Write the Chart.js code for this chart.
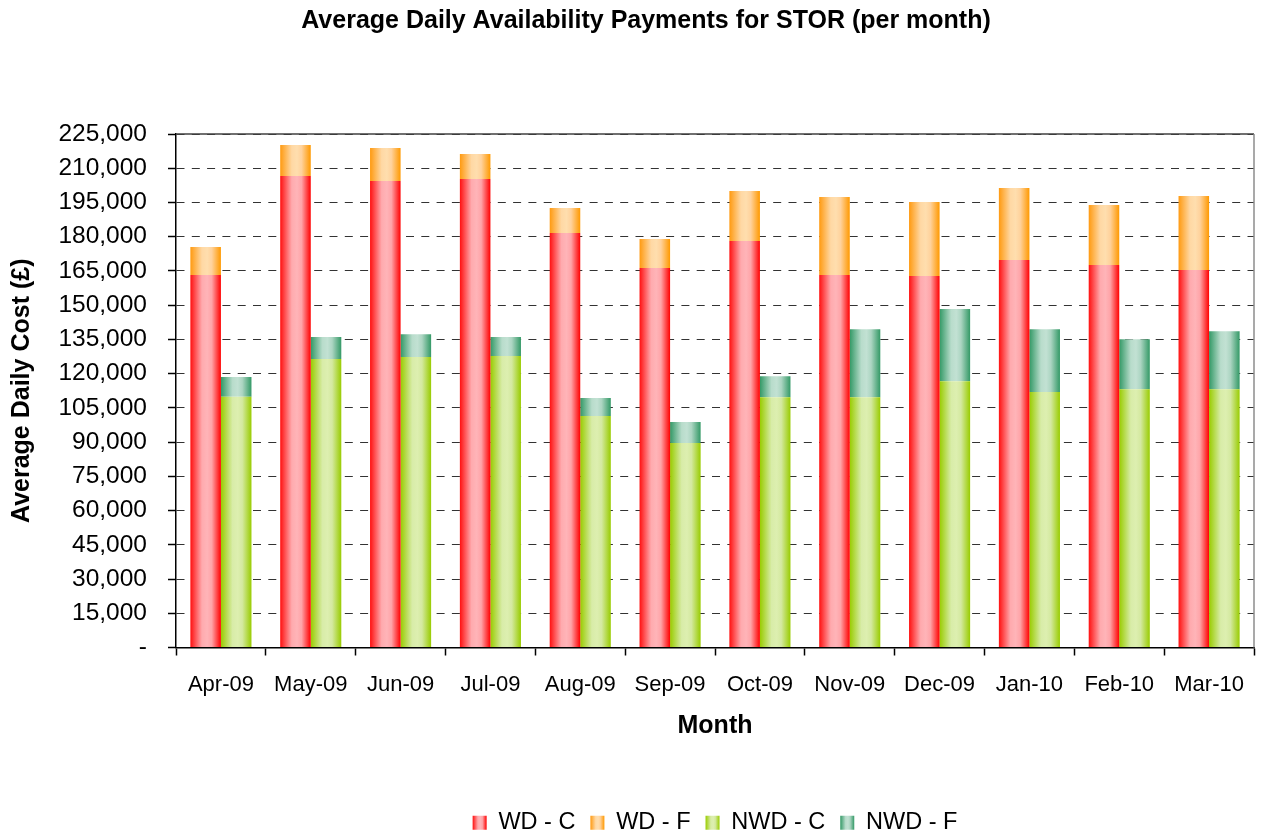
<!DOCTYPE html>
<html>
<head>
<meta charset="utf-8">
<title>Average Daily Availability Payments for STOR</title>
<script src="https://cdn.jsdelivr.net/npm/chart.js@4"></script>
<style>
  html, body { margin: 0; padding: 0; background: #fff; }
  #wrap { width: 1261px; height: 837px; }
</style>
</head>
<body>
<div id="wrap"><canvas id="chartCanvas"></canvas></div>
<script>
const months = ["Apr-09", "May-09", "Jun-09", "Jul-09", "Aug-09", "Sep-09",
                "Oct-09", "Nov-09", "Dec-09", "Jan-10", "Feb-10", "Mar-10"];

// working day, contracted / flexible
const wdC = [163200, 206600, 204400, 205300, 181600, 166300, 178100, 163200, 162800, 169800, 167600, 165400];
const wdF = [12300, 13600, 14500, 10900, 11000, 12700, 21900, 34200, 32400, 31500, 26300, 32400];
// non working day, contracted / flexible
const nwdC = [109900, 126400, 127300, 127700, 101400, 89600, 109700, 109700, 116700, 111900, 113200, 113200];
const nwdF = [8600, 9600, 10000, 8300, 7900, 9200, 9200, 29800, 31600, 27600, 21900, 25400];

const yMax = 225000;
const yStep = 15000;

const CAT_PCT = 0.68;

const RED = [[0, "#ff1010"], [0.38, "#ffaaae"], [0.55, "#ffb4b8"], [0.7, "#ffa4a8"], [1, "#ff0000"]];
const ORANGE = [[0, "#ff9a10"], [0.38, "#ffd8a4"], [0.55, "#ffdeae"], [0.7, "#ffd29c"], [1, "#ff9900"]];
const LGREEN = [[0, "#99cc00"], [0.38, "#d8eca8"], [0.55, "#ddefb0"], [0.7, "#d4e9a0"], [1, "#99cc00"]];
const DGREEN = [[0, "#339966"], [0.38, "#b8dccb"], [0.55, "#c2e1d3"], [0.7, "#acd5c2"], [1, "#339966"]];

Chart.defaults.font.family = "'Liberation Sans', Arial, sans-serif";
Chart.defaults.color = "#000";

// horizontal gradient across one bar (side 0 = left bar of the pair, 1 = right bar)
function barGradient(stops, side) {
    return function(c) {
        const chart = c.chart;
        const area = chart.chartArea;
        const xs = chart.scales.x;
        if (c.type !== "data" || !area || !xs) return stops[2][1];
        const half = (area.right - area.left) / months.length * CAT_PCT / 2;
        const mid = xs.getPixelForValue(c.dataIndex);
        const x0 = side === 0 ? mid - half : mid;
        const g = chart.ctx.createLinearGradient(x0, 0, x0 + half, 0);
        stops.forEach(s => g.addColorStop(s[0], s[1]));
        return g;
    };
}

const legendStops = [RED, ORANGE, LGREEN, DGREEN];

const plotFrame = {
    id: "plotFrame",
    afterLayout(chart) {
        // title sits a little right of the canvas centre
        chart.titleBlock.left += 19;
        chart.titleBlock.right += 19;
    },
    beforeDraw(chart) {
        const boxes = chart.legend.legendHitBoxes;
        chart.legend.legendItems.forEach((item, i) => {
            const hb = boxes[i];
            if (!hb) return;
            const g = chart.ctx.createLinearGradient(hb.left, 0, hb.left + 14, 0);
            legendStops[i].forEach(s => g.addColorStop(s[0], s[1]));
            item.fillStyle = g;
        });
    },
    afterDatasetsDraw(chart) {
        const a = chart.chartArea;
        const ctx = chart.ctx;
        ctx.save();
        ctx.lineWidth = 1.5;
        ctx.strokeStyle = "#404040";
        ctx.beginPath();
        ctx.moveTo(a.left, a.top);
        ctx.lineTo(a.right, a.top);
        ctx.stroke();
        ctx.strokeStyle = "#8c8c8c";
        ctx.beginPath();
        ctx.moveTo(a.right, a.top);
        ctx.lineTo(a.right, a.bottom);
        ctx.stroke();
        ctx.restore();
    }
};

const ctx = document.getElementById("chartCanvas").getContext("2d");
const chart = new Chart(ctx, {
    type: "bar",
    data: {
        labels: months,
        datasets: [
            { label: "WD - C", data: wdC, stack: "wd", backgroundColor: barGradient(RED, 0) },
            { label: "WD - F", data: wdF, stack: "wd", backgroundColor: barGradient(ORANGE, 0) },
            { label: "NWD - C", data: nwdC, stack: "nwd", backgroundColor: barGradient(LGREEN, 1) },
            { label: "NWD - F", data: nwdF, stack: "nwd", backgroundColor: barGradient(DGREEN, 1) }
        ]
    },
    options: {
        responsive: true,
        maintainAspectRatio: false,
        animation: false,
        datasets: {
            bar: { barPercentage: 1, categoryPercentage: CAT_PCT, borderWidth: 0 }
        },
        layout: { padding: { left: 0, right: 7, top: 0, bottom: -7.5 } },
        plugins: {
            title: {
                display: true,
                text: "Average Daily Availability Payments for STOR (per month)",
                font: { size: 25, weight: "bold" },
                color: "#000",
                padding: { top: 6, bottom: 98 }
            },
            legend: {
                position: "bottom",
                fullSize: false,
                labels: {
                    boxWidth: 14,
                    boxHeight: 14,
                    padding: 15,
                    font: { size: 23.5 },
                    color: "#000"
                }
            },
            tooltip: { enabled: false }
        },
        scales: {
            x: {
                stacked: true,
                grid: {
                    offset: true,
                    drawOnChartArea: false,
                    tickLength: 8,
                    tickColor: "#000",
                    tickWidth: 1.5
                },
                border: { color: "#000", width: 1.5 },
                ticks: { font: { size: 22 }, color: "#000", padding: 16, maxRotation: 0, autoSkip: false },
                title: {
                    display: true,
                    text: "Month",
                    font: { size: 25, weight: "bold" },
                    color: "#000",
                    padding: { top: 0, bottom: 55 }
                },
                afterFit(scale) { scale.height = 148.5; }
            },
            y: {
                stacked: true,
                min: 0,
                max: yMax,
                grid: {
                    color: "#333",
                    lineWidth: 1,
                    tickLength: 8,
                    tickColor: "#000",
                    tickWidth: 1.5
                },
                border: { color: "#000", width: 1.5, dash: [8, 7.3] },
                ticks: {
                    stepSize: yStep,
                    font: { size: 24.5 },
                    color: "#000",
                    padding: 21,
                    callback: v => v === 0 ? "-" : v.toLocaleString("en-US")
                },
                title: {
                    display: true,
                    text: "Average Daily Cost (£)",
                    font: { size: 25, weight: "bold" },
                    color: "#000",
                    padding: { top: 7, bottom: 0 }
                },
                afterFit(scale) { scale.width = 176; }
            }
        }
    },
    plugins: [plotFrame]
});
</script>
</body>
</html>
